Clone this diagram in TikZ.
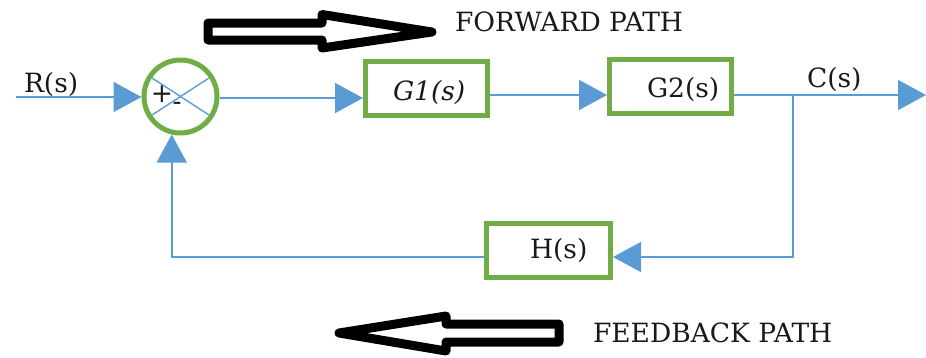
\documentclass[tikz,border=0pt]{standalone}
\usepackage{fontspec}
\setmainfont{DejaVu Serif}
\usetikzlibrary{arrows.meta}
\definecolor{sigblue}{RGB}{91,155,213}
\definecolor{boxgreen}{RGB}{112,173,71}
\begin{document}
\begin{tikzpicture}[x=1pt,y=-1pt,
  every node/.style={inner sep=0pt,outer sep=0pt},
  txt/.style={font=\fontsize{26.5}{31}\selectfont,anchor=base west,text=black!90},
  blockbox/.style={draw=boxgreen,line width=5pt,fill=white,minimum width=122pt,minimum height=54pt,outer sep=2.5pt},
  sumring/.style={circle,draw=boxgreen,line width=5pt,minimum size=73pt,outer sep=2.5pt},
  flow/.style={draw=sigblue,line width=1.6pt,-{Triangle[length=28pt,width=30pt]}},
  wire/.style={draw=sigblue,line width=1.6pt},
  crossline/.style={draw=sigblue,line width=1.4pt},
  hollowarrow/.style={draw=black,line width=9pt,line join=round,fill=white}]
\useasboundingbox (0,0) rectangle (926,357);

% path direction markers
\draw[hollowarrow] (208,23) -- (322,23) -- (322,14.5) -- (432,32) -- (322,48)
  -- (322,40) -- (208,40) -- cycle;
\node[txt] (fwdlbl) at (455,31.5) {FORWARD PATH};
\draw[hollowarrow] (559,324) -- (446,324) -- (446,316) -- (339,333) -- (446,351)
  -- (446,342) -- (559,342) -- cycle;
\node[txt] (fbklbl) at (593,342) {FEEDBACK PATH};

% summing junction
\node[sumring] (sum) at (180.5,96.5) {};
\draw[crossline] ([shift={(147:34pt)}]sum.center) -- ([shift={(-33:34pt)}]sum.center);
\draw[crossline] ([shift={(213:34pt)}]sum.center) -- ([shift={(33:34pt)}]sum.center);
\node[txt,anchor=center] (plus) at (162,94) {+};
\node[txt,anchor=center] (minus) at (177,106) {-};

% blocks
\node[blockbox] (G1) at (426.5,88.5) {};
\node[txt,font=\fontsize{26.5}{31}\selectfont\itshape] (G1t) at (393,100) {G1(s)};
\node[blockbox] (G2) at (670.5,86.5) {};
\node[txt] (G2t) at (647,97) {G2(s)};
\node[blockbox,minimum width=124pt] (H) at (548.5,250.5) {};
\node[txt] (Ht) at (530,258) {H(s)};

% signals
\coordinate (in) at (16,97);
\coordinate (out) at (926,95);
\coordinate (branch) at (793,95);
\node[txt] (Rl) at (24,92) {R(s)};
\node[txt] (Cl) at (807,87) {C(s)};

\draw[flow] (in) -- (sum.west |- in);
\draw[flow] ([yshift=-1.5pt]sum.east) -- ([yshift=-1.5pt]sum.east -| G1.west);
\draw[flow] ([yshift=-6.5pt]G1.east) -- ([yshift=-6.5pt]G1.east -| G2.west);
\draw[wire] ([yshift=-8.5pt]G2.east) -- (branch);
\draw[flow] (branch) -- (out);
\draw[flow] (branch) |- ([yshift=-6.5pt]H.east);
\draw[flow] ([yshift=-6.5pt]H.west) -| (sum.257.5);
\end{tikzpicture}
\end{document}
